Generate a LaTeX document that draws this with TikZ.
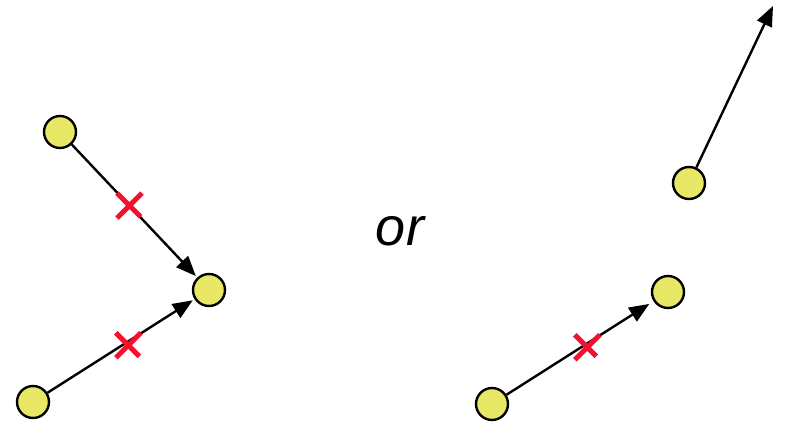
\documentclass[tikz,border=0pt]{standalone}
\usepackage{fontspec}
\setsansfont{Liberation Sans}
\usepackage{tikz}
\usetikzlibrary{arrows.meta,shapes.misc}
\definecolor{nyellow}{HTML}{E8E866}
\definecolor{nred}{HTML}{F5102E}

\begin{document}
\begin{tikzpicture}[x=1pt, y=-1pt,
   dot/.style={circle, draw=black, fill=nyellow, line width=2.4pt, minimum size=32pt, inner sep=0pt},
   link/.style={-{Triangle[length=20pt,width=16pt]}, line width=2.4pt, shorten >=2pt},
   xmark/.style={cross out, draw=nred, line width=5pt, minimum size=20pt, inner sep=0pt}]
  \useasboundingbox (0,0) rectangle (785,422);
  % left: two senders into one receiver
  \node[dot] (l1) at (60,132) {};
  \node[dot] (l2) at (209,290) {};
  \node[dot] (l3) at (33,402) {};
  \draw[link] (l1) -- (l2) node[xmark, pos=0.46] (x1) {};
  \draw[link] (l3) -- (l2) node[xmark, pos=0.55, yshift=-4pt] (x2) {};
  \node[font=\sffamily\itshape\fontsize{54}{60}\selectfont] (or) at (400,231) {or};
  % right: one link, one free arrow
  \node[dot] (r1) at (689,183) {};
  \node[dot] (r2) at (668,292) {};
  \node[dot] (r3) at (492,404) {};
  \coordinate (up) at (773,6);
  \draw[link, shorten >=0pt] (r1) -- (up);
  \draw[link, shorten >=5pt] (r3) -- (r2) node[xmark, pos=0.55, yshift=-4pt] (x3) {};
\end{tikzpicture}
\end{document}
